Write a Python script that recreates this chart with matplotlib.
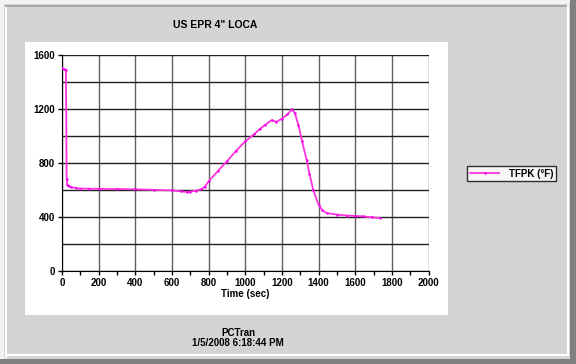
"""Recreate the PCTran US EPR 4" LOCA fuel peak temperature chart."""

import matplotlib.pyplot as plt
from matplotlib.patches import Rectangle
from matplotlib.ticker import MultipleLocator

plt.rcParams['font.family'] = ['Liberation Sans', 'DejaVu Sans']

TITLE = 'US EPR 4" LOCA'
SERIES_NAME = 'TFPK (°F)'
X_LABEL = 'Time (sec)'
FOOTER = 'PCTran\n1/5/2008 6:18:44 PM'

time_sec = [0, 10, 22, 26, 30, 40, 52, 75, 100, 150, 200, 300, 400, 500,
            600, 650, 680, 700, 730, 760, 780, 800, 850, 900, 950, 1000,
            1050, 1080, 1110, 1143, 1170, 1200, 1230, 1254, 1270, 1290,
            1310, 1334, 1350, 1370, 1400, 1420, 1443, 1500, 1552, 1600,
            1643, 1690, 1734]
tfpk = [1504, 1495, 1490, 680, 640, 628, 621, 615, 611, 610, 609, 607,
        605, 601, 597, 590, 585, 588, 595, 605, 625, 664, 740, 813, 890,
        961, 1015, 1053, 1085, 1117, 1105, 1128, 1160, 1197, 1170, 1080,
        960, 825, 720, 602, 491, 450, 429, 418, 411, 408, 404, 398, 392]

W, H = 576, 364


def px_box(x0, y0, x1, y1):
    """Pixel box (top-left origin) to figure-fraction rectangle args."""
    return (x0 / W, 1 - y1 / H), (x1 - x0) / W, (y1 - y0) / H


def main():
    fig = plt.figure(figsize=(W / 100, H / 100), dpi=100)
    fig.patch.set_facecolor('#d4d4d4')

    # window bevel
    frame = [
        ((0, 0, W, 4), '#f2f2f2'),
        ((0, 0, 4, H), '#f2f2f2'),
        ((5, 5, 7, 358), '#ffffff'),
        ((5, 5, 569, 7), '#a8a8a8'),
        ((567, 5, 569, 356), '#ffffff'),
        ((5, 354, 569, 356), '#ffffff'),
        ((0, 359, W, H), '#808080'),
        ((570, 0, W, H), '#808080'),
        ((25, 42, 448, 315), '#ffffff'),
    ]
    for (x0, y0, x1, y1), color in frame:
        xy, w, h = px_box(x0, y0, x1, y1)
        fig.add_artist(Rectangle(xy, w, h, transform=fig.transFigure,
                                 facecolor=color, edgecolor='none', zorder=0))

    ax = fig.add_axes([61.9 / W, 1 - 271 / H, 366.8 / W, 216 / H])
    ax.set_facecolor('white')
    ax.plot(time_sec, tfpk, '-', color='#ff33dd', linewidth=1.3,
            marker='.', markersize=1.5, markerfacecolor='#ee00ee',
            markeredgecolor='#ee00ee', label=SERIES_NAME, zorder=3)

    ax.set_xlim(0, 2000)
    ax.set_ylim(0, 1600)
    ax.xaxis.set_major_locator(MultipleLocator(200))
    ax.xaxis.set_minor_locator(MultipleLocator(100))
    ax.yaxis.set_major_locator(MultipleLocator(400))
    ax.yaxis.set_minor_locator(MultipleLocator(200))
    ax.grid(True, axis='x', which='major', color='#606060', linewidth=1)
    ax.grid(True, axis='y', which='both', color='#202020', linewidth=1)
    ax.tick_params(axis='both', which='major', length=3, width=1,
                   labelsize=7, pad=2)
    ax.tick_params(axis='x', which='minor', length=3, width=1)
    ax.tick_params(axis='y', which='minor', length=0)
    for label in ax.get_xticklabels() + ax.get_yticklabels():
        label.set_fontweight('bold')
    for side in ('top', 'right'):
        ax.spines[side].set_visible(False)
    for side in ('left', 'bottom'):
        ax.spines[side].set_color('black')
    ax.set_xlabel(X_LABEL, fontsize=7, fontweight='bold', labelpad=1)

    fig.text(215.5 / W, 1 - 24.5 / H, TITLE, ha='center', va='center',
             fontsize=7.5, fontweight='bold')
    fig.text(238 / W, 1 - 338 / H, FOOTER, ha='center', va='center',
             fontsize=7, fontweight='bold', linespacing=1.0)

    leg = fig.legend(loc='center left', bbox_to_anchor=(467 / W, 1 - 173.5 / H),
                     frameon=True, fancybox=False,
                     handlelength=3, borderpad=0.3, handletextpad=1.0,
                     borderaxespad=0, prop={'weight': 'bold', 'size': 7})
    leg.get_frame().set_edgecolor('black')
    leg.get_frame().set_linewidth(1)
    leg.get_frame().set_facecolor('white')

    fig.savefig('out.png', dpi=100, facecolor=fig.get_facecolor())


if __name__ == '__main__':
    main()
